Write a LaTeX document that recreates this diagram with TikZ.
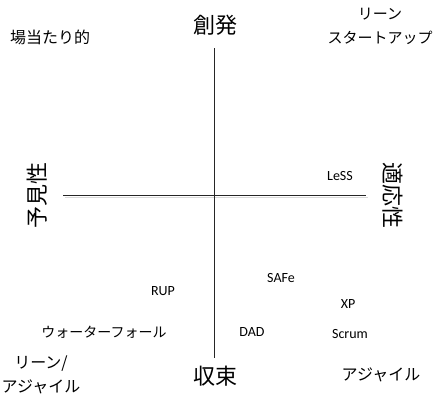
\documentclass[tikz,border=0pt]{standalone}
\usepackage{fontspec}
\setmainfont{Carlito}
\newfontfamily\jpfont{Noto Sans CJK JP}
\begin{document}
\begin{tikzpicture}[x=1pt,y=-1pt,
  axis/.style={draw=black!85,line width=0.8pt},
  big/.style={font=\jpfont\fontsize{22}{24}\selectfont,inner sep=0pt},
  jp/.style={font=\jpfont\fontsize{16}{24}\selectfont,inner sep=0pt,align=center},
  jps/.style={font=\jpfont\fontsize{14}{16}\selectfont,inner sep=0pt},
  lat/.style={font=\fontsize{14}{16}\selectfont,inner sep=0pt}]
\useasboundingbox (0,0) rectangle (436,400);
\coordinate (vt) at (214,48);
\coordinate (vb) at (214,358);
\coordinate (hl) at (63,195);
\coordinate (hr) at (366,195);
\coordinate (sl) at (65,197.3);
\coordinate (sr) at (368,197.3);
\draw[black!15,line width=0.6pt] (sl) -- (sr);
\draw[axis] (vt) -- (vb);
\draw[axis] (hl) -- (hr);
\node[big] (top) at (215,25) {創発};
\node[big] (bot) at (215,376) {収束};
\node[big,rotate=90] (left) at (37,195) {予見性};
\node[big,rotate=-90] (right) at (393,195) {適応性};
\node[jp] (adhoc) at (50,37) {場当たり的};
\node[jp,font=\jpfont\fontsize{15}{24}\selectfont] (lean) at (380,26) {リーン\\スタートアップ};
\node[jp] (leanag) at (41,375) {リーン/\\アジャイル};
\node[jp] (agile) at (381,375) {アジャイル};
\node[jps] (wf) at (104,332) {ウォーターフォール};
\node[lat] (less) at (340,176) {LeSS};
\node[lat] (safe) at (281,278) {SAFe};
\node[lat] (rup) at (163,291) {RUP};
\node[lat] (xp) at (348,304) {XP};
\node[lat] (dad) at (252,332) {DAD};
\node[lat] (scrum) at (350,334) {Scrum};
\end{tikzpicture}
\end{document}
